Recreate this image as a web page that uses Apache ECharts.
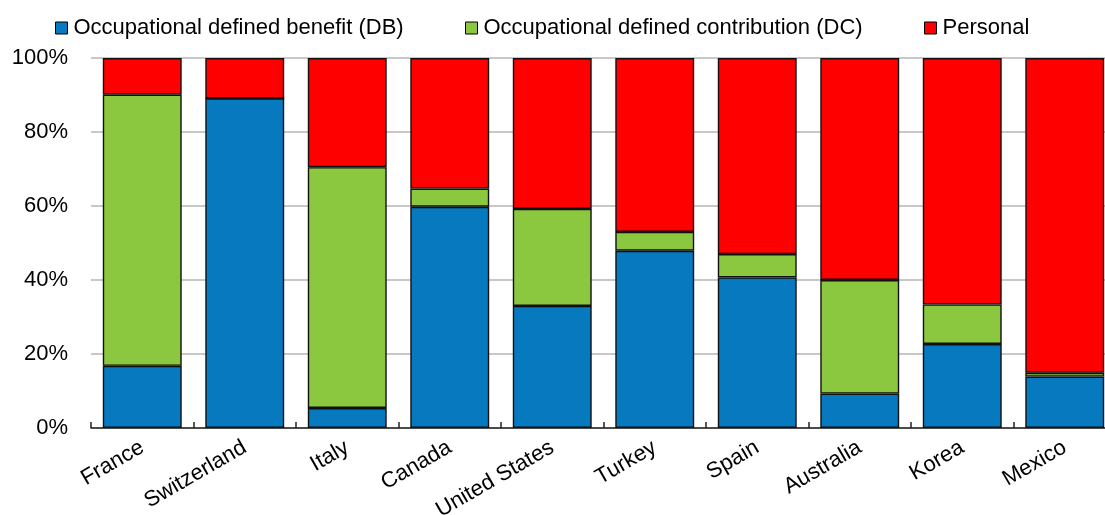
<!DOCTYPE html>
<html>
<head>
<meta charset="utf-8">
<script src="https://cdn.jsdelivr.net/npm/echarts@6/dist/echarts.min.js"></script>
<style>
html,body{margin:0;padding:0;background:#fff;}
#chart{width:1105px;height:515px;}
</style>
</head>
<body>
<div id="chart"></div>
<script>
const categories = ['France','Switzerland','Italy','Canada','United States','Turkey','Spain','Australia','Korea','Mexico'];
const dbValues = [16.8, 89.1, 5.4, 59.8, 33.0, 47.9, 40.7, 9.3, 22.7, 13.9];
const dcValues = [73.3, 0, 65.1, 4.9, 26.2, 5.1, 6.3, 30.7, 10.7, 1.0];
const personalValues = [9.9, 10.9, 29.5, 35.3, 40.8, 47.0, 53.0, 60.0, 66.6, 85.1];
const seriesNames = ['Occupational defined benefit (DB)','Occupational defined contribution (DC)','Personal'];
const yTicks = [0, 20, 40, 60, 80, 100];

const colors = ['#0679bf', '#8cc740', '#ff0000'];
const chart = echarts.init(document.getElementById('chart'), null, {renderer:'canvas'});
const font = '"Liberation Sans Narrow", "Arial Narrow", "Liberation Sans", Arial, sans-serif';
const legendLefts = [50, 460, 919];
function mk(name, data, color){
  return {
    name, type:'bar', stack:'total', data, barWidth:'77%',
    itemStyle:{color, borderColor:'#111', borderWidth:1.4},
    emphasis:{disabled:true}
  };
}
const legends = seriesNames.map((n, i) => ({
  data:[n], top:12, left:legendLefts[i], itemWidth:12, itemHeight:12,
  icon:'rect', itemGap:0,
  textStyle:{fontFamily:font, fontSize:22, color:'#000', padding:[0,0,0,1]},
  itemStyle:{borderColor:'#000', borderWidth:1}
}));
chart.setOption({
  animation:false,
  color:colors,
  legend:legends,
  grid:{left:91, top:58, right:-11, height:370, containLabel:false, outerBoundsMode:'none'},
  xAxis:{
    type:'category', data:categories,
    axisLine:{show:true, lineStyle:{color:'#222', width:1.5}},
    axisTick:{show:true, inside:true, length:6, alignWithLabel:false, lineStyle:{color:'#222', width:1.5}},
    axisLabel:{interval:0, rotate:30, fontFamily:font, fontSize:22, color:'#000', margin:18}
  },
  yAxis:{
    type:'value', min:0, max:100, interval:20,
    axisLine:{show:false}, axisTick:{show:false},
    splitLine:{show:true, lineStyle:{color:'#c8c8c8', width:2}},
    axisLabel:{fontFamily:font, fontSize:22, color:'#000', margin:23,
      formatter:v => yTicks.includes(v) ? v + '%' : ''}
  },
  series:[
    mk(seriesNames[0], dbValues, colors[0]),
    mk(seriesNames[1], dcValues, colors[1]),
    mk(seriesNames[2], personalValues, colors[2])
  ]
});
</script>
</body>
</html>
